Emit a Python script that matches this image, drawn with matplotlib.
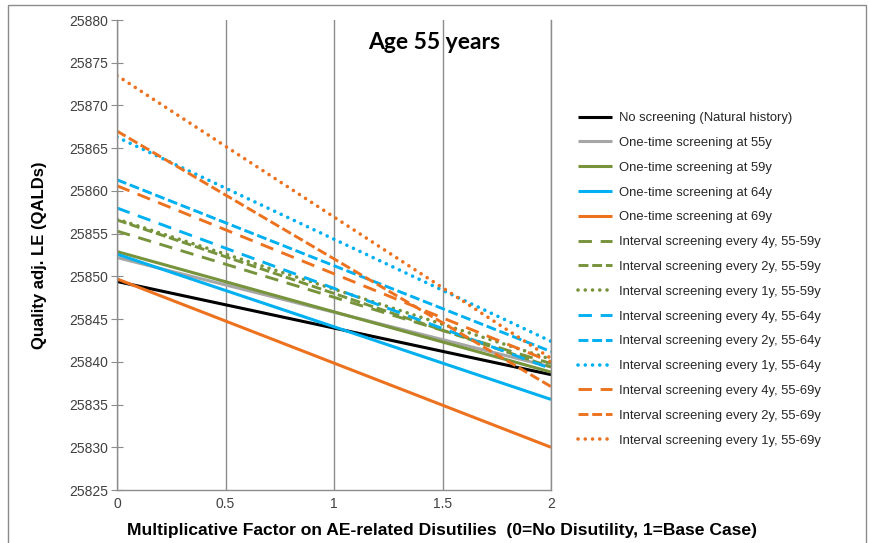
import matplotlib
matplotlib.use("Agg")
import matplotlib.pyplot as plt
from matplotlib.patches import Rectangle

# multiplicative factor on AE-related disutilities
factor = [0, 2]

# quality adjusted LE (QALDs) at factor 0 and 2
no_screening = [25849.4, 25838.5]
once_55 = [25852.2, 25839.4]
once_59 = [25852.9, 25838.8]
once_64 = [25852.6, 25835.6]
once_69 = [25849.7, 25830.0]
every4_55_59 = [25855.3, 25839.8]
every2_55_59 = [25856.6, 25839.4]
every1_55_59 = [25856.7, 25840.3]
every4_55_64 = [25858.0, 25839.2]
every2_55_64 = [25861.3, 25841.2]
every1_55_64 = [25866.3, 25842.4]
every4_55_69 = [25860.6, 25840.0]
every2_55_69 = [25867.0, 25837.1]
every1_55_69 = [25873.5, 25840.4]

labels = [
    "No screening (Natural history)",
    "One-time screening at 55y",
    "One-time screening at 59y",
    "One-time screening at 64y",
    "One-time screening at 69y",
    "Interval screening every 4y, 55-59y",
    "Interval screening every 2y, 55-59y",
    "Interval screening every 1y, 55-59y",
    "Interval screening every 4y, 55-64y",
    "Interval screening every 2y, 55-64y",
    "Interval screening every 1y, 55-64y",
    "Interval screening every 4y, 55-69y",
    "Interval screening every 2y, 55-69y",
    "Interval screening every 1y, 55-69y",
]
series = [no_screening, once_55, once_59, once_64, once_69,
          every4_55_59, every2_55_59, every1_55_59,
          every4_55_64, every2_55_64, every1_55_64,
          every4_55_69, every2_55_69, every1_55_69]

black = "#000000"
gray = "#A6A6A6"
green = "#77933C"
blue = "#00B0F0"
orange = "#EC7220"
colors = [black, gray, green, blue, orange,
          green, green, green, blue, blue, blue, orange, orange, orange]
# None = solid, otherwise dash pattern
long_dash = (4.6, 3.0)
dash = (3.4, 1.3)
dot = (0.01, 2.0)
styles = [None] * 5 + [long_dash, dash, dot] * 3

plt.rcParams["font.family"] = ["Liberation Sans", "DejaVu Sans"]

fig = plt.figure(figsize=(8.69, 5.43), dpi=100)
ax = fig.add_axes([117 / 869, 53 / 543, 434 / 869, 470 / 543])

for vals, lab, col, st in zip(series, labels, colors, styles):
    if st is None:
        ax.plot(factor, vals, color=col, lw=2.2, label=lab,
                solid_capstyle="butt")
    elif st == dot:
        ax.plot(factor, vals, color=col, lw=2.6, label=lab,
                dashes=st, dash_capstyle="round")
    else:
        ax.plot(factor, vals, color=col, lw=2.1, label=lab, dashes=st)

ax.set_xlim(0, 2)
ax.set_ylim(25825, 25880)
ax.set_xticks([0, 0.5, 1, 1.5, 2])
ax.set_xticklabels(["0", "0.5", "1", "1.5", "2"])
ax.set_yticks(range(25825, 25881, 5))
ax.grid(axis="x", color="#8C8C8C", lw=1.0)
ax.set_axisbelow(True)
ax.spines["top"].set_visible(False)
for s in ["left", "bottom", "right"]:
    ax.spines[s].set_color("#8C8C8C")
    ax.spines[s].set_linewidth(1.0)
ax.tick_params(axis="y", direction="inout", length=8.5, color="#8C8C8C",
               labelsize=10, labelcolor="#404040", pad=2)
ax.tick_params(axis="x", length=0, labelsize=10, labelcolor="#404040", pad=5)

ax.text(0.73, 0.975, "Age 55 years", transform=ax.transAxes, ha="center",
        va="top", fontsize=16.5, fontweight="bold", family=["Lato", "DejaVu Sans"])

fig.text(40 / 869, 1 - 255 / 543, "Quality adj. LE (QALDs)", rotation=90,
         ha="center", va="center", fontsize=12, fontweight="bold")
fig.text(442 / 869, 1 - 531 / 543,
         "Multiplicative Factor on AE-related Disutilies  (0=No Disutility, 1=Base Case)",
         ha="center", va="center", fontsize=12.6, fontweight="bold")

fig.legend(loc="upper left", bbox_to_anchor=(578 / 869, 1 - 112 / 543),
           frameon=False, fontsize=9.4, handlelength=2.6, handletextpad=0.55,
           labelspacing=0.97, borderpad=0, borderaxespad=0,
           labelcolor="#262626")

# outer chart border
fig.patches.append(Rectangle((8 / 869, -0.01), 858 / 869, 1 - 5 / 543 + 0.01,
                             transform=fig.transFigure, fill=False,
                             edgecolor="#8C8C8C", lw=1.0))

fig.savefig("out.png", dpi=100)
